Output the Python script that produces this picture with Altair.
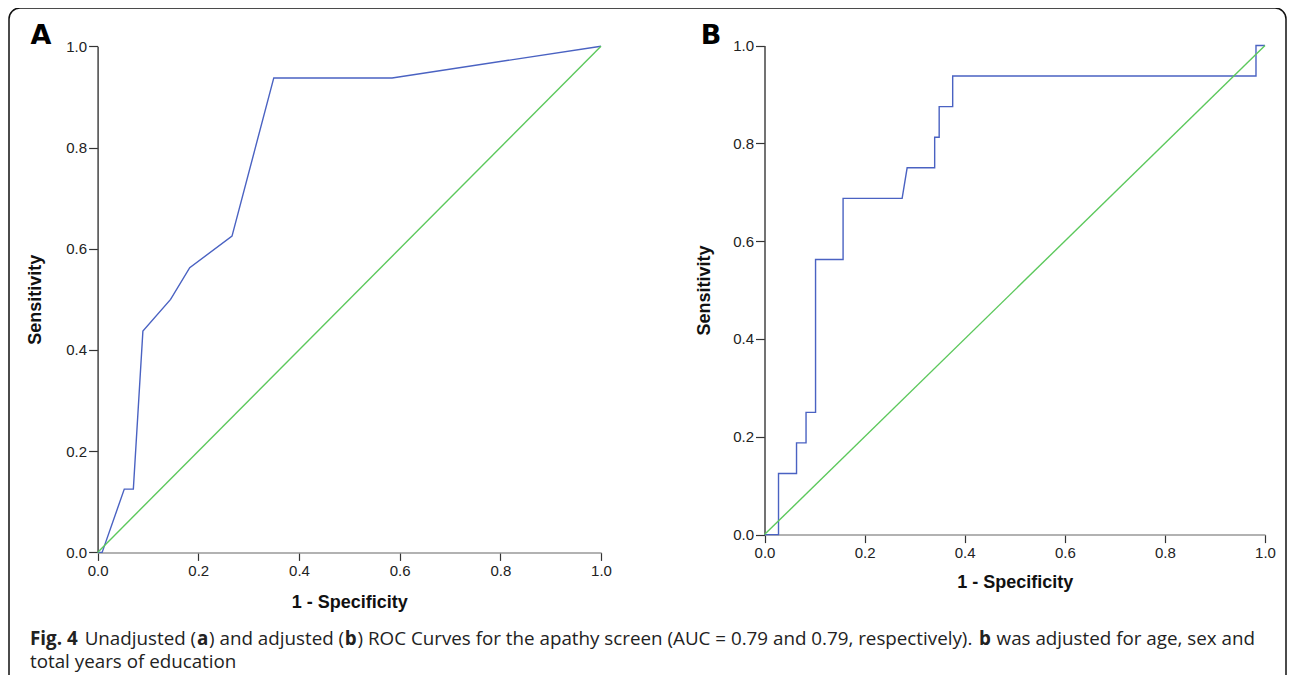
import altair as alt
import pandas as pd

# ---------------- data ----------------
# Panel A: unadjusted ROC curve (1 - specificity, sensitivity)
a_fpr = [0.0, 0.009, 0.053, 0.071, 0.090, 0.145, 0.183, 0.267, 0.350, 0.585, 1.0]
a_tpr = [0.0, 0.0, 0.125, 0.125, 0.4375, 0.5, 0.5625, 0.625, 0.9375, 0.9375, 1.0]

# Panel B: adjusted ROC curve
b_fpr = [0.0, 0.028, 0.028, 0.064, 0.064, 0.083, 0.083, 0.102, 0.102, 0.157, 0.157,
         0.275, 0.285, 0.340, 0.340, 0.349, 0.349, 0.376, 0.376, 0.982, 0.982, 1.0]
b_tpr = [0.0, 0.0, 0.125, 0.125, 0.1875, 0.1875, 0.25, 0.25, 0.5625, 0.5625, 0.6875,
         0.6875, 0.75, 0.75, 0.8125, 0.8125, 0.875, 0.875, 0.9375, 0.9375, 1.0, 1.0]

# Reference (chance) diagonal
ref_fpr = [0.0, 1.0]
ref_tpr = [0.0, 1.0]

tick_values = [0.0, 0.2, 0.4, 0.6, 0.8, 1.0]
x_title = "1 - Specificity"
y_title = "Sensitivity"
panel_letters = ["A", "B"]

caption_line1 = [
    ("Fig. 4", True),
    (" Unadjusted (", False),
    ("a", True),
    (") and adjusted (", False),
    ("b", True),
    (") ROC Curves for the apathy screen (AUC = 0.79 and 0.79, respectively). ", False),
    ("b", True),
    (" was adjusted for age, sex and", False),
]
caption_line2 = "total years of education"

# ---------------- styling ----------------
BLUE = "#4a62c2"
GREEN = "#5cc85c"
AXIS_FONT = "Liberation Sans Narrow, Liberation Sans, Arial, sans-serif"
TITLE_FONT = "Liberation Sans"
CAP_FONT = "Open Sans"
W, H = 1279, 667


def panel_df(fpr, tpr):
    rows = [{"fpr": f, "tpr": t, "series": "ROC", "i": k} for k, (f, t) in enumerate(zip(fpr, tpr))]
    rows += [{"fpr": f, "tpr": t, "series": "Reference", "i": k}
             for k, (f, t) in enumerate(zip(ref_fpr, ref_tpr))]
    return pd.DataFrame(rows)


def panel(df, xr, yr, x_off, y_off, xt_y, yt_x):
    xax = alt.Axis(orient="bottom", offset=x_off, values=tick_values, format=".1f",
                   title=x_title, titleFont=TITLE_FONT, titleFontSize=18, titleFontWeight="bold",
                   titleColor="#111", titleY=xt_y, titleBaseline="middle",
                   labelFont=AXIS_FONT, labelFontSize=15, labelColor="#222", labelPadding=3,
                   labelFlush=False, labelOverlap=False,
                   tickSize=8, tickColor="#333", tickWidth=1.2,
                   domainColor="#999", domainWidth=1.5, grid=False)
    yax = alt.Axis(orient="left", offset=y_off, values=tick_values, format=".1f",
                   title=y_title, titleFont=TITLE_FONT, titleFontSize=18, titleFontWeight="bold",
                   titleColor="#111", titleX=yt_x, titleBaseline="middle", titleAngle=270,
                   labelFont=AXIS_FONT, labelFontSize=15, labelColor="#222", labelPadding=2,
                   labelFlush=False, labelOverlap=False,
                   tickSize=9, tickColor="#333", tickWidth=1.2,
                   domainColor="#444", domainWidth=1.5, grid=False)
    return alt.Chart(df).mark_line(strokeWidth=1.4).encode(
        x=alt.X("fpr:Q", scale=alt.Scale(domain=[0, 1], range=xr, nice=False, zero=False), axis=xax),
        y=alt.Y("tpr:Q", scale=alt.Scale(domain=[0, 1], range=yr, nice=False, zero=False), axis=yax),
        color=alt.Color("series:N", scale=alt.Scale(domain=["Reference", "ROC"], range=[GREEN, BLUE]),
                        legend=None),
        order="i:Q",
    )


# plot-area coordinates (page minus 8px margin)
panelA = panel(panel_df(a_fpr, a_tpr), [89.6, 593.0], [544.4, 38.3], 544.4 - H, -89.6, 50, -62)
panelB = panel(panel_df(b_fpr, b_tpr), [756.5, 1257.0], [526.6, 37.5], 526.6 - H, -756.5, 48, -60)

one = alt.Data(values=[{"k": 0}])

border = alt.Chart(one).mark_rect(cornerRadius=11, fillOpacity=0, stroke="#111", strokeWidth=1.5).encode(
    x=alt.value(1), x2=alt.value(W - 1), y=alt.value(0), y2=alt.value(730))

letters = [
    alt.Chart(one).mark_text(text=panel_letters[0], font="DejaVu Sans", fontSize=27, fontWeight="bold",
                             align="center", baseline="alphabetic", color="#000").encode(
        x=alt.value(33), y=alt.value(36)),
    alt.Chart(one).mark_text(text=panel_letters[1], font="DejaVu Sans", fontSize=27, fontWeight="bold",
                             align="center", baseline="alphabetic", color="#000").encode(
        x=alt.value(703), y=alt.value(36)),
]

# approximate Open Sans advance widths (em) to lay out mixed-weight caption runs
REG = {' ': 0.26, 'a': 0.556, 'b': 0.613, 'c': 0.476, 'd': 0.613, 'e': 0.561, 'f': 0.339, 'g': 0.548,
       'h': 0.614, 'i': 0.253, 'j': 0.253, 'k': 0.525, 'l': 0.253, 'm': 0.930, 'n': 0.614, 'o': 0.604,
       'p': 0.613, 'q': 0.613, 'r': 0.408, 's': 0.477, 't': 0.353, 'u': 0.614, 'v': 0.501, 'w': 0.778,
       'x': 0.524, 'y': 0.502, '(': 0.297, ')': 0.297, '.': 0.266, ',': 0.244, '=': 0.572,
       'A': 0.633, 'C': 0.631, 'O': 0.781, 'R': 0.635, 'U': 0.734, 'F': 0.547}
BOLD = {' ': 0.26, 'F': 0.60, 'i': 0.31, 'g': 0.57, '.': 0.30, '4': 0.58, 'a': 0.62, 'b': 0.65}
CAP_SIZE = 18.8


def text_w(s, bold):
    tbl = BOLD if bold else REG
    return sum(tbl.get(ch, 0.572 if ch.isdigit() else 0.55) for ch in s) * CAP_SIZE


caption_layers = []
cx = 22.0
for seg, bold in caption_line1:
    lead = len(seg) - len(seg.lstrip(" "))
    cx += lead * REG[' '] * CAP_SIZE
    body = seg.strip(" ")
    caption_layers.append(
        alt.Chart(one).mark_text(text=body, font=CAP_FONT, fontSize=CAP_SIZE,
                                 fontWeight="bold" if bold else "normal", align="left",
                                 baseline="alphabetic", color="#222").encode(
            x=alt.value(cx), y=alt.value(637)))
    cx += text_w(seg.lstrip(" "), bold) + 0.5
caption_layers.append(
    alt.Chart(one).mark_text(text=caption_line2, font=CAP_FONT, fontSize=CAP_SIZE, align="left",
                             baseline="alphabetic", color="#222").encode(
        x=alt.value(22), y=alt.value(660)))

chart = alt.layer(border, panelA, panelB, *letters, *caption_layers).resolve_scale(
    x="independent", y="independent", color="shared"
).properties(
    width=W, height=H, autosize=alt.AutoSizeParams(type="none"), padding=0, background="white"
).configure_view(stroke="transparent")

chart.save("out.html", embed_options={"renderer": "svg", "actions": False})
